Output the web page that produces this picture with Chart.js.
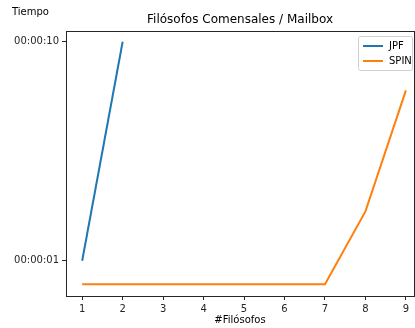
<!DOCTYPE html>
<html lang="es">
<head>
<meta charset="UTF-8" />
<title>Filósofos Comensales / Mailbox</title>
<script src="https://cdn.jsdelivr.net/npm/chart.js@4.4.1/dist/chart.umd.min.js"></script>
<style>
  html, body { margin: 0; padding: 0; background: #fff; }
  #wrap { width: 415px; height: 328px; }
</style>
</head>
<body>
<div id="wrap"><canvas id="myChart" width="415" height="328"></canvas></div>
<script>
  // datos (segundos)
  const filosofos = [1, 2, 3, 4, 5, 6, 7, 8, 9];
  const jpfTiempos = [1.0, 10.0];
  const spinTiempos = [0.78, 0.78, 0.78, 0.78, 0.78, 0.78, 0.78, 1.68, 6.0];
  const yTicks = [1, 10];

  const font = "DejaVu Sans";
  const ink = "#262626";

  function fmtTime(s) {
    s = Math.round(s);
    const h = String(Math.floor(s / 3600)).padStart(2, "0");
    const m = String(Math.floor((s % 3600) / 60)).padStart(2, "0");
    const ss = String(s % 60).padStart(2, "0");
    return h + ":" + m + ":" + ss;
  }

  // ejes tipo matplotlib, titulo, etiqueta y leyenda
  const mplDecor = {
    id: "mplDecor",
    afterDraw(chart) {
      const c = chart.ctx;
      const a = chart.chartArea;
      c.save();
      c.strokeStyle = ink;
      c.lineWidth = 1;
      c.strokeRect(Math.round(a.left) + 0.5, Math.round(a.top) + 0.5,
        Math.round(a.right - a.left), Math.round(a.bottom - a.top));

      c.fillStyle = "#000";
      c.textBaseline = "middle";
      c.textAlign = "center";
      c.font = "12px '" + font + "'";
      c.fillText("Filósofos Comensales / Mailbox", (a.left + a.right) / 2, 20);

      c.font = "10px '" + font + "'";
      c.textAlign = "left";
      c.fillText("Tiempo", 12, 12);
      c.textAlign = "center";
      c.fillText("#Filósofos", (a.left + a.right) / 2, 320);

      // leyenda
      const lx = a.right - 56, ly = a.top + 5, lw = 54, lh = 34;
      c.fillStyle = "rgba(255,255,255,0.8)";
      c.strokeStyle = "#d0d0d0";
      c.beginPath();
      c.roundRect(lx + 0.5, ly + 0.5, lw, lh, 2);
      c.fill();
      c.stroke();
      chart.data.datasets.forEach((ds, i) => {
        const yy = ly + 10 + i * 15;
        c.strokeStyle = ds.borderColor;
        c.lineWidth = 2;
        c.beginPath();
        c.moveTo(lx + 5, yy);
        c.lineTo(lx + 25, yy);
        c.stroke();
        c.fillStyle = "#000";
        c.textAlign = "left";
        c.fillText(ds.label, lx + 31, yy);
      });
      c.restore();
    }
  };

  const ctx = document.getElementById("myChart");
  new Chart(ctx, {
    type: "line",
    data: {
      datasets: [
        {
          label: "JPF",
          data: jpfTiempos.map((t, i) => ({ x: filosofos[i], y: t })),
          borderColor: "#1f77b4",
          borderWidth: 2,
          pointRadius: 0,
          tension: 0,
        },
        {
          label: "SPIN",
          data: spinTiempos.map((t, i) => ({ x: filosofos[i], y: t })),
          borderColor: "#ff7f0e",
          borderWidth: 2,
          pointRadius: 0,
          tension: 0,
        },
      ],
    },
    options: {
      responsive: false,
      animation: false,
      layout: { padding: { top: 31, right: 1, left: 0, bottom: 0 } },
      plugins: {
        legend: { display: false },
        title: { display: false },
        tooltip: { enabled: false },
      },
      scales: {
        x: {
          type: "linear",
          min: 0.6,
          max: 9.2,
          afterBuildTicks: (s) => { s.ticks = filosofos.map((v) => ({ value: v })); },
          afterFit: (s) => { s.height = 32; },
          ticks: { color: ink, font: { family: font, size: 10 }, padding: 3, maxRotation: 0 },
          grid: { drawOnChartArea: false, drawTicks: true, tickLength: 4, color: ink },
          border: { color: ink },
        },
        y: {
          type: "logarithmic",
          min: 0.69,
          max: 11.2,
          afterBuildTicks: (s) => { s.ticks = yTicks.map((v) => ({ value: v })); },
          afterFit: (s) => { s.width = 66; },
          ticks: {
            color: ink,
            font: { family: font, size: 10 },
            padding: 3,
            callback: (v) => fmtTime(v),
          },
          grid: { drawOnChartArea: false, drawTicks: true, tickLength: 4, color: ink },
          border: { color: ink },
        },
      },
    },
    plugins: [mplDecor],
  });
</script>
</body>
</html>
